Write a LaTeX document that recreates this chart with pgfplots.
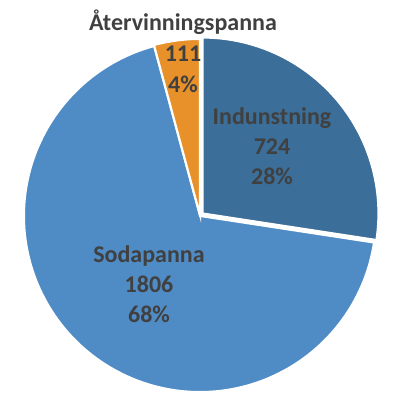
\documentclass[border=0pt]{standalone}
\usepackage{pgfplots}
\pgfplotsset{compat=1.18}
\usepackage{pgfplotstable}
\usepackage{fontspec}
\setmainfont{Carlito}
\definecolor{cInd}{RGB}{59,110,152}
\definecolor{cSoda}{RGB}{79,140,198}
\definecolor{cAter}{RGB}{232,145,42}
\definecolor{txt}{RGB}{64,64,64}
\pgfplotstableread{
name value
Indunstning 724
Sodapanna 1806
Atervinningspanna 111
}\pietable
\begin{document}
\begin{tikzpicture}
\pgfplotstablegetelem{0}{value}\of\pietable \let\vA\pgfplotsretval
\pgfplotstablegetelem{1}{value}\of\pietable \let\vB\pgfplotsretval
\pgfplotstablegetelem{2}{value}\of\pietable \let\vC\pgfplotsretval
\pgfmathsetmacro\tot{\vA+\vB+\vC}
\pgfmathsetmacro\fA{\vA/\tot}
\pgfmathsetmacro\fB{\vB/\tot}
\pgfmathsetmacro\fC{\vC/\tot}
\pgfmathsetmacro\aA{90-360*\fA}
\pgfmathsetmacro\aB{\aA-360*\fB}
\pgfmathsetmacro\aC{\aB-360*\fC}
\begin{axis}[width=413pt,height=396pt,scale only axis,
  xmin=0,xmax=413,ymin=0,ymax=396,hide axis,clip=false]
\addplot[fill=cSoda,draw=white,line width=2pt,domain=\aB:\aA,samples=150,variable=\t]
  ({200+176*cos(\t)},{180+176*sin(\t)}) -- (axis cs:200,180) -- cycle;
\addplot[fill=cAter,draw=white,line width=2pt,domain=\aC:\aB,samples=30,variable=\t]
  ({200+176*cos(\t)},{181+176*sin(\t)}) -- (axis cs:200,181) -- cycle;
\addplot[fill=cInd,draw=white,line width=2.2pt,domain=\aA:90,samples=80,variable=\t]
  ({202.5+176*cos(\t)},{182.5+176*sin(\t)}) -- (axis cs:202.5,182.5) -- cycle;
\tikzset{lbl/.style={anchor=base,text=txt,inner sep=0pt,font=\bfseries\fontsize{24}{30}\selectfont}}
\node[lbl] at (axis cs:183,365) {Återvinningspanna};
\node[lbl] at (axis cs:183,334) {111};
\node[lbl] at (axis cs:183,303) {4\%};
\node[lbl] at (axis cs:272,271) {Indunstning};
\node[lbl] at (axis cs:272,241) {724};
\node[lbl] at (axis cs:272,211) {28\%};
\node[lbl] at (axis cs:149,133) {Sodapanna};
\node[lbl] at (axis cs:149,103) {1806};
\node[lbl] at (axis cs:149,73) {68\%};
\end{axis}
\pgfresetboundingbox
\path (current axis.south west) rectangle (current axis.north east);
\end{tikzpicture}
\end{document}
